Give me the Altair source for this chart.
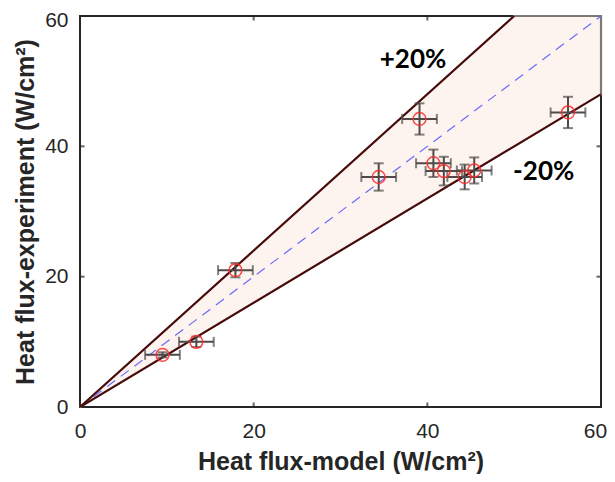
import altair as alt
import pandas as pd

# measured points
model_x = [9.5, 13.4, 17.9, 34.4, 39.1, 40.7, 41.9, 44.3, 45.4, 56.2]
exp_y = [8.0, 10.0, 21.0, 35.3, 44.2, 37.4, 36.2, 35.3, 36.3, 45.2]
x_err = [2.0, 2.0, 2.0, 2.0, 2.0, 2.0, 2.1, 2.0, 2.0, 2.0]
y_err = [0.4, 0.8, 1.1, 2.1, 2.4, 2.1, 2.2, 1.9, 2.0, 2.4]

# +/-20% band
band_x = [0, 50, 60]
band_hi = [0, 60, 60]
band_lo = [0, 40, 48]
plus_x = [0, 50]
plus_y = [0, 60]
minus_x = [0, 60]
minus_y = [0, 48]
ideal_x = [0, 60]
ideal_y = [0, 60]

tick_vals = [0, 20, 40, 60]
inner_ticks = [20, 40]
labels_text = ["+20%", "-20%"]
labels_x = [38.35, 53.4]
labels_y = [53.2, 36.0]

pts = pd.DataFrame({"x": model_x, "y": exp_y, "ex": x_err, "ey": y_err})
band = pd.DataFrame({"x": band_x, "hi": band_hi, "lo": band_lo})
plus = pd.DataFrame({"x": plus_x, "y": plus_y})
minus = pd.DataFrame({"x": minus_x, "y": minus_y})
ideal = pd.DataFrame({"x": ideal_x, "y": ideal_y})
ann = pd.DataFrame({"t": labels_text, "x": labels_x, "y": labels_y})

FONT = "Liberation Sans"
xs = alt.Scale(domain=[0, 60], nice=False, zero=False)
ys = alt.Scale(domain=[0, 60], nice=False, zero=False)

xaxis = alt.Axis(values=tick_vals, grid=False, domain=False, ticks=False, labelFlush=False,
                 labelFont=FONT, labelFontSize=21, labelColor="#262626",
                 labelPadding=13,
                 labelOffset={"condition": {"test": "datum.value == 60", "value": -6}, "value": 0},
                 title="Heat flux-model (W/cm²)",
                 titleFont=FONT, titleFontSize=25, titleFontWeight="bold",
                 titleColor="#262626", titleY=62, titleBaseline="alphabetic")
yaxis = alt.Axis(values=tick_vals, grid=False, domain=False, ticks=False, labelFlush=False,
                 labelFont=FONT, labelFontSize=21, labelColor="#262626",
                 labelPadding=12,
                 labelOffset={"condition": {"test": "datum.value == 60", "value": 4}, "value": 0},
                 title="Heat flux-experiment (W/cm²)",
                 titleFont=FONT, titleFontSize=25, titleFontWeight="bold",
                 titleColor="#262626", titleX=-47, titleBaseline="alphabetic")

X = lambda f="x": alt.X(f"{f}:Q", scale=xs, axis=xaxis)
Y = lambda f="y": alt.Y(f"{f}:Q", scale=ys, axis=yaxis)

area = alt.Chart(band).mark_area(fill="#fdf4ef", stroke="#7f7873", strokeWidth=2.2).encode(
    x=X(), y=Y("hi"), y2="lo:Q")

ideal_l = alt.Chart(ideal).mark_line(color="#6a6aff", strokeDash=[10, 7], strokeWidth=1.2, clip=True).encode(x=X(), y=Y())
plus_l = alt.Chart(plus).mark_line(color="#4a0808", strokeWidth=1.9, clip=True).encode(x=X(), y=Y())
minus_l = alt.Chart(minus).mark_line(color="#4a0808", strokeWidth=1.9, clip=True).encode(x=X(), y=Y())

base = alt.Chart(pts).transform_calculate(
    xl="datum.x - datum.ex", xh="datum.x + datum.ex",
    yl="datum.y - datum.ey", yh="datum.y + datum.ey")
ebc = "#4f4a48"
xbar = base.mark_rule(color=ebc, strokeWidth=2).encode(x=X("xl"), x2="xh:Q", y=Y())
ybar = base.mark_rule(color=ebc, strokeWidth=2).encode(x=X(), y=Y("yl"), y2="yh:Q")
xcap_l = base.mark_tick(color=ebc, thickness=2, size=10, orient="vertical").encode(x=X("xl"), y=Y())
xcap_h = base.mark_tick(color=ebc, thickness=2, size=10, orient="vertical").encode(x=X("xh"), y=Y())
ycap_l = base.mark_tick(color=ebc, thickness=2, size=10, orient="horizontal").encode(x=X(), y=Y("yl"))
ycap_h = base.mark_tick(color=ebc, thickness=2, size=10, orient="horizontal").encode(x=X(), y=Y("yh"))

circ = alt.Chart(pts).mark_point(shape="circle", filled=False, size=165, stroke="#ff2a2a",
                                 strokeWidth=1.5, opacity=0.85).encode(x=X(), y=Y())

tk = pd.DataFrame({"v": inner_ticks})
tcol = "#262626"
t_bottom = alt.Chart(tk).mark_tick(color=tcol, thickness=2, size=9, orient="vertical", clip=True).encode(
    x=X("v"), y=alt.value(391))
t_top = alt.Chart(tk).mark_tick(color=tcol, thickness=2, size=9, orient="vertical", clip=True).encode(
    x=X("v"), y=alt.value(0))
t_left = alt.Chart(tk).mark_tick(color=tcol, thickness=2, size=9, orient="horizontal", clip=True).encode(
    y=Y("v"), x=alt.value(0))
t_right = alt.Chart(tk).mark_tick(color=tcol, thickness=2, size=9, orient="horizontal", clip=True).encode(
    y=Y("v"), x=alt.value(521))

txt = alt.Chart(ann).mark_text(font="Lato", fontSize=26, fontWeight="bold", color="#000000",
                               align="center", baseline="middle").encode(
    x=X(), y=Y(), text="t:N")

chart = alt.layer(area, ideal_l, plus_l, minus_l, xbar, ybar, xcap_l, xcap_h, ycap_l, ycap_h,
                  circ, t_bottom, t_top, t_left, t_right, txt).properties(
    width=521, height=391,
    autosize=alt.AutoSizeParams(type="none"),
    padding={"left": 72, "top": 8, "right": 6, "bottom": 67},
).configure_view(stroke="#262626", strokeWidth=2)

chart.save("out.html", embed_options={"renderer": "svg", "actions": False})
